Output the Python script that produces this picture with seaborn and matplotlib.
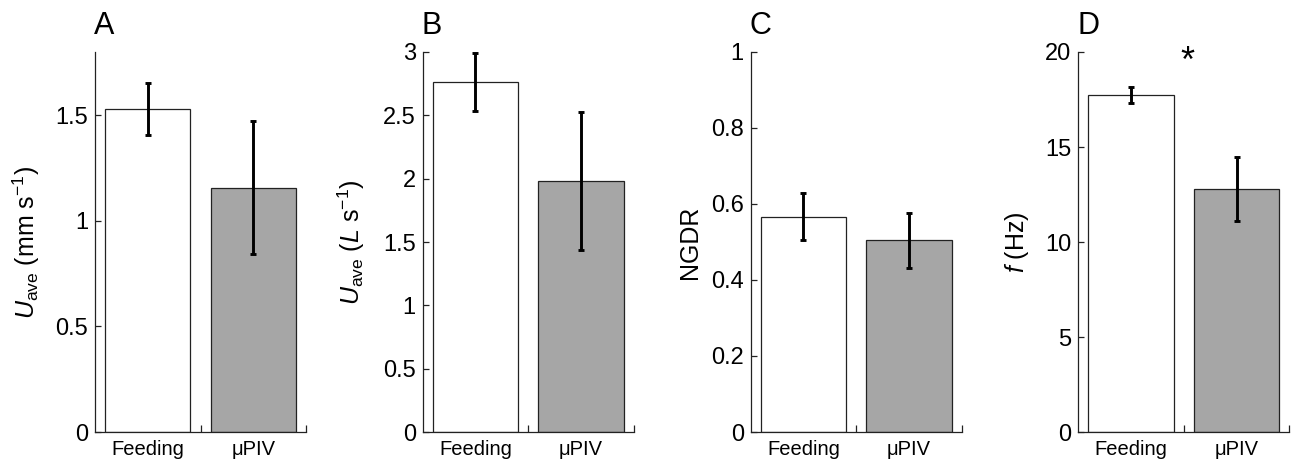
import matplotlib
matplotlib.use("Agg")
import matplotlib.pyplot as plt
from matplotlib.ticker import FixedLocator
import seaborn as sns
import pandas as pd

# ---- data ----
categories = ["Feeding", "\u03bcPIV"]
panel_letters = ["A", "B", "C", "D"]

uave_mm = [1.53, 1.158]
uave_mm_err = [0.124, 0.313]

uave_L = [2.765, 1.981]
uave_L_err = [0.23, 0.545]

ngdr = [0.567, 0.504]
ngdr_err = [0.063, 0.073]

freq = [17.75, 12.81]
freq_err = [0.41, 1.68]

ylabels = [r"$U_{\mathrm{ave}}$ (mm s$^{\mathrm{-1}}$)",
           r"$U_{\mathrm{ave}}$ ($L$ s$^{\mathrm{-1}}$)",
           "NGDR",
           r"$f$ (Hz)"]
ylims = [(0, 1.8), (0, 3), (0, 1), (0, 20)]
yticks = [[0, 0.5, 1, 1.5],
          [0, 0.5, 1, 1.5, 2, 2.5, 3],
          [0, 0.2, 0.4, 0.6, 0.8, 1],
          [0, 5, 10, 15, 20]]
yticklabels = [["0", "0.5", "1", "1.5"],
               ["0", "0.5", "1", "1.5", "2", "2.5", "3"],
               ["0", "0.2", "0.4", "0.6", "0.8", "1"],
               ["0", "5", "10", "15", "20"]]

sns.set_theme(style="white")
plt.rcParams["font.family"] = ["Liberation Sans", "DejaVu Sans"]
plt.rcParams["mathtext.fontset"] = "custom"
plt.rcParams["mathtext.rm"] = "Liberation Sans"
plt.rcParams["mathtext.it"] = "Liberation Sans:italic"
for k in ["text.color", "axes.labelcolor", "xtick.color", "ytick.color"]:
    plt.rcParams[k] = "black"

fig = plt.figure(figsize=(12.91, 4.65), dpi=100)

lefts_px = [95, 422.7, 750.7, 1078.3]
W, H = 1291.0, 465.0
ax_w = 211 / W
ax_b = (H - 432) / H
ax_h = 380 / H
ylabel_x = [-0.25, -0.264, -0.23, -0.224]

means = [uave_mm, uave_L, ngdr, freq]
errs = [uave_mm_err, uave_L_err, ngdr_err, freq_err]

for i in range(4):
    ax = fig.add_axes([lefts_px[i] / W, ax_b, ax_w, ax_h])
    df = pd.DataFrame({"cond": categories, "val": means[i]})
    sns.barplot(data=df, x="cond", y="val", hue="cond",
                palette=["#ffffff", "#a6a6a6"], legend=False,
                width=0.81, edgecolor="#222222", linewidth=0.9, ax=ax)
    ax.errorbar([0, 1], means[i], yerr=errs[i], fmt="none",
                ecolor="black", elinewidth=2.1, capsize=2.4, capthick=2.1)
    ax.set_xlim(-0.5, 1.5)
    ax.set_ylim(*ylims[i])
    ax.set_yticks(yticks[i])
    ax.set_yticklabels(yticklabels[i])
    ax.xaxis.set_minor_locator(FixedLocator([0.5, 1.5]))
    ax.tick_params(axis="x", which="major", length=0, pad=6, labelsize=14.5)
    ax.tick_params(axis="x", which="minor", direction="in", length=5,
                   width=0.9, color="#222222", bottom=True)
    ax.tick_params(axis="y", direction="in", length=4, width=0.9,
                   color="#222222", pad=5, labelsize=17, left=True)
    for s in ["top", "right"]:
        ax.spines[s].set_visible(False)
    for s in ["left", "bottom"]:
        ax.spines[s].set_color("#222222")
        ax.spines[s].set_linewidth(0.9)
    ax.set_xlabel("")
    ax.set_ylabel(ylabels[i], fontsize=18)
    ax.yaxis.set_label_coords(ylabel_x[i], 0.5)
    ax.text(-0.005, 1.0466, panel_letters[i], transform=ax.transAxes,
            fontsize=22, ha="left", va="baseline")
    if i == 3:
        ax.text(0.53, 19.45, "*", fontsize=26, ha="center", va="center")

fig.savefig("out.png", dpi=100)
